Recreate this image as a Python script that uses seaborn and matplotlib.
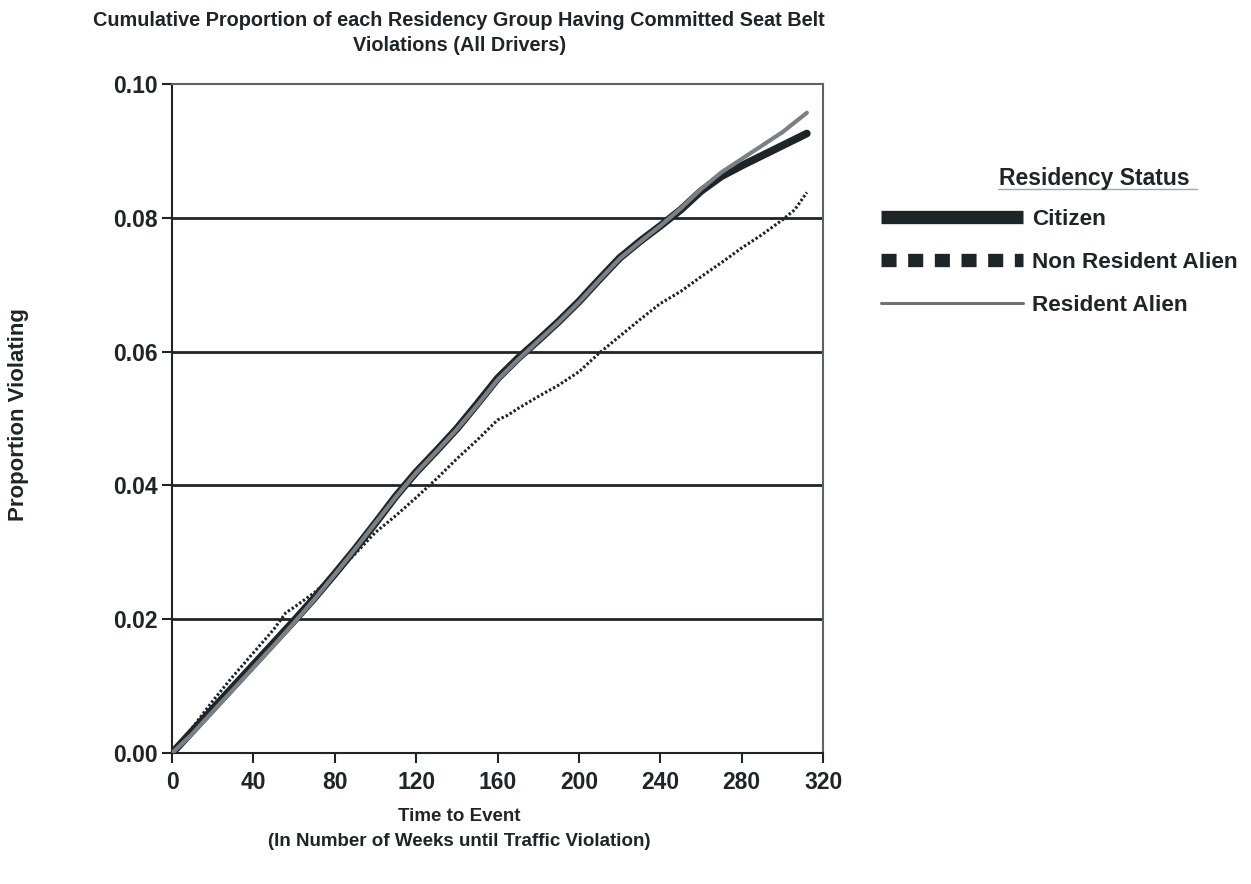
import seaborn as sns
import pandas as pd
import matplotlib.pyplot as plt
from matplotlib.lines import Line2D

# weeks until violation
weeks = [0, 10, 20, 30, 40, 50, 60, 70, 80, 90, 100, 110, 120, 130, 140, 150,
         160, 170, 180, 190, 200, 210, 220, 230, 240, 250, 260, 270, 280, 290, 300, 312]

citizen = [0.0, 0.0033, 0.0066, 0.0099, 0.0132, 0.0165, 0.0198, 0.0232, 0.0268, 0.0305,
           0.0344, 0.0384, 0.0420, 0.0452, 0.0485, 0.0522, 0.0560, 0.0590, 0.0617, 0.0645,
           0.0675, 0.0708, 0.0740, 0.0765, 0.0788, 0.0812, 0.0840, 0.0862, 0.0878, 0.0893,
           0.0908, 0.0926]

resident = [0.0, 0.0029, 0.0062, 0.0095, 0.0128, 0.0161, 0.0195, 0.0230, 0.0267, 0.0305,
            0.0344, 0.0383, 0.0419, 0.0451, 0.0484, 0.0520, 0.0558, 0.0588, 0.0616, 0.0644,
            0.0674, 0.0707, 0.0739, 0.0764, 0.0788, 0.0814, 0.0843, 0.0868, 0.0888, 0.0908,
            0.0928, 0.0957]

nra_weeks = [0, 10, 20, 30, 40, 50, 56, 60, 70, 80, 90, 100, 110, 120, 130, 140, 150,
             160, 165, 170, 180, 190, 200, 210, 220, 230, 240, 250, 260, 270, 280, 290,
             300, 306, 312]
non_resident = [0.0, 0.0038, 0.0078, 0.0115, 0.0150, 0.0185, 0.0210, 0.0218, 0.0240,
                0.0268, 0.0298, 0.0330, 0.0355, 0.0382, 0.0410, 0.0440, 0.0468, 0.0498,
                0.0505, 0.0515, 0.0533, 0.0550, 0.0570, 0.0598, 0.0623, 0.0648, 0.0672,
                0.0690, 0.0712, 0.0733, 0.0755, 0.0775, 0.0797, 0.0812, 0.0838]

x_ticks = [0, 40, 80, 120, 160, 200, 240, 280, 320]
y_ticks = [0.00, 0.02, 0.04, 0.06, 0.08, 0.10]
grid_levels = [0.02, 0.04, 0.06, 0.08]

dark = "#1e2528"
gray = "#7a8085"

sns.set_style("white")
plt.rcParams['font.family'] = ['Liberation Sans', 'DejaVu Sans']
plt.rcParams['font.weight'] = 'bold'

df_c = pd.DataFrame({"week": weeks, "p": citizen})
df_r = pd.DataFrame({"week": weeks, "p": resident})
df_n = pd.DataFrame({"week": nra_weeks, "p": non_resident})

fig = plt.figure(figsize=(12.51, 8.84), dpi=100)
ax = fig.add_axes([0.1375, 0.148, 0.5205, 0.757])

for lev in grid_levels:
    ax.axhline(lev, color=dark, lw=2, zorder=1)

sns.lineplot(data=df_n, x="week", y="p", ax=ax, color=dark, lw=2.2,
             linestyle=(0, (0.8, 0.7)), legend=False, zorder=3)
sns.lineplot(data=df_c, x="week", y="p", ax=ax, color=dark, lw=5.5, legend=False, zorder=4)
sns.lineplot(data=df_r, x="week", y="p", ax=ax, color=gray, lw=3, legend=False, zorder=5)

ax.set_xlim(0, 320)
ax.set_ylim(0, 0.10)
ax.set_xticks(x_ticks)
ax.set_yticks(y_ticks)
ax.set_yticklabels([f"{v:.2f}" for v in y_ticks])
ax.tick_params(axis='both', direction='out', length=7, width=1.5, color=dark,
               labelsize=16.5, left=True, bottom=True)
ax.tick_params(axis='x', pad=6)
ax.tick_params(axis='y', pad=3)
for lab in ax.get_xticklabels() + ax.get_yticklabels():
    lab.set_fontweight('bold')
    lab.set_color(dark)

for side in ["left", "bottom"]:
    ax.spines[side].set_color(dark)
    ax.spines[side].set_linewidth(1.5)
for side in ["top", "right"]:
    ax.spines[side].set_color("#5c6468")
    ax.spines[side].set_linewidth(1.5)

ax.set_xlabel("")
ax.set_ylabel("")

fig.text(0.367, 0.987, "Cumulative Proportion of each Residency Group Having Committed Seat Belt\nViolations (All Drivers)",
         ha='center', va='top', fontsize=14.3, fontweight='bold', color=dark, linespacing=1.4)
fig.text(0.015, 0.531, "Proportion Violating", rotation=90, ha='center', va='center',
         fontsize=16, fontweight='bold', color=dark)
fig.text(0.367, 0.086, "Time to Event\n(In Number of Weeks until Traffic Violation)",
         ha='center', va='top', fontsize=13.5, fontweight='bold', color=dark, linespacing=1.6)

# legend
fig.text(0.951, 0.798, "Residency Status", ha='right', va='center',
         fontsize=16.5, fontweight='bold', color=dark)
fig.add_artist(Line2D([0.798, 0.957], [0.786, 0.786], color="#a0a6aa", lw=1))

handles = [
    Line2D([], [], color=dark, lw=9.6, solid_capstyle='butt'),
    Line2D([], [], color=dark, lw=9.6, linestyle=(0, (1.13, 0.87)), dash_capstyle='butt'),
    Line2D([], [], color="#6b7378", lw=2.2),
]
leg = fig.legend(handles, ["Citizen", "Non Resident Alien", "Resident Alien"],
                 loc='upper left', bbox_to_anchor=(0.697, 0.774), frameon=False,
                 handlelength=6.3, handletextpad=0.4, labelspacing=0.99, fontsize=16.2,
                 borderaxespad=0)
for t in leg.get_texts():
    t.set_fontweight('bold')
    t.set_color(dark)

fig.savefig("out.png", dpi=100)
